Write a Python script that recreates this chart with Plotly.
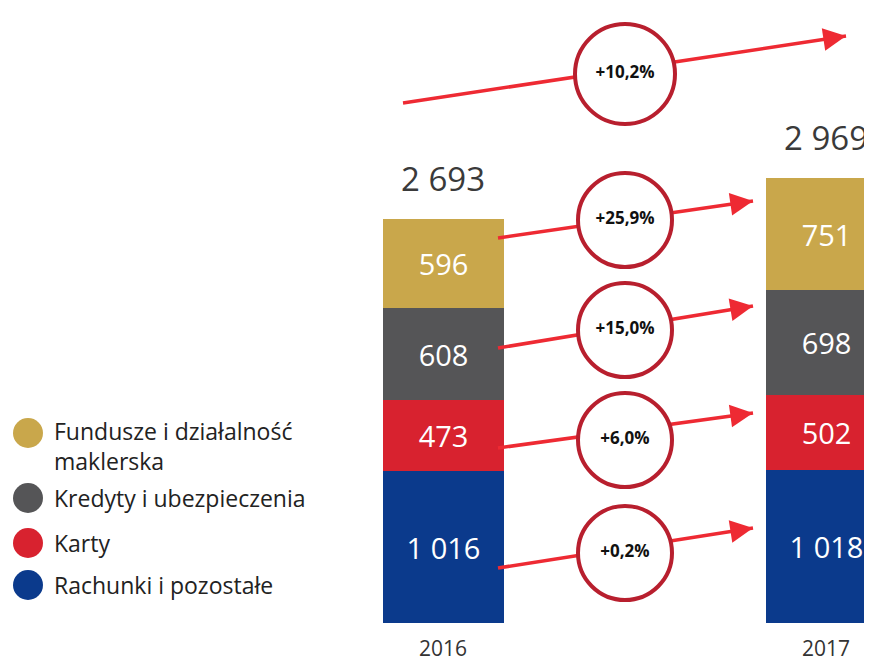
import plotly.graph_objects as go

years = ["2016", "2017"]
segments = ["Rachunki i pozostałe", "Karty", "Kredyty i ubezpieczenia", "Fundusze i działalność maklerska"]
values = {
    "Rachunki i pozostałe": [1016, 1018],
    "Karty": [473, 502],
    "Kredyty i ubezpieczenia": [608, 698],
    "Fundusze i działalność maklerska": [596, 751],
}
labels = {
    "Rachunki i pozostałe": ["1 016", "1 018"],
    "Karty": ["473", "502"],
    "Kredyty i ubezpieczenia": ["608", "698"],
    "Fundusze i działalność maklerska": ["596", "751"],
}
totals = [2693, 2969]
total_labels = ["2 693", "2 969"]
changes = ["+0,2%", "+6,0%", "+15,0%", "+25,9%"]
total_change = "+10,2%"

colors = ["#0b3a8c", "#d8222f", "#555557", "#c9a74b"]
FONT = "Open Sans"

# pixel -> data helpers (bar centres at 427px and 810px, base at 608px); page offset ~8px
OX, OY = 8, 7
PXU = 383.0
PYU = 0.15
def dx(px):
    return (px - OX - 427) / PXU
def dy(py):
    return (608 - py + OY) / PYU

fig = go.Figure()
xs = [0, 1]
for seg, c in zip(segments, colors):
    fig.add_trace(go.Bar(x=xs, y=values[seg], marker=dict(color=c, line=dict(width=0)),
                         width=121 / PXU, text=labels[seg], textposition="inside",
                         insidetextanchor="middle",
                         textfont=dict(color="white", size=29, family=FONT),
                         showlegend=False, hoverinfo="skip"))

for i in range(2):
    fig.add_annotation(x=xs[i], y=totals[i], text=total_labels[i], showarrow=False,
                       yanchor="bottom", yshift=16, font=dict(size=33, color="#3a3a3a", family=FONT))
    fig.add_annotation(x=xs[i], y=dy(640), text=years[i], showarrow=False,
                       font=dict(size=21, color="#333", family=FONT))

# arrows: start px, end px, circle centre
arrows = [((490, 560), (745, 520), (617, 545)),
          ((490, 440), (745, 405), (617, 432)),
          ((490, 340), (745, 298), (617, 322)),
          ((490, 230), (745, 193), (617, 212)),
          ((395, 95), (838, 28), (617, 66))]
texts = changes + [total_change]
red = "#ee2a33"
for (s, e, cc), t in zip(arrows, texts):
    fig.add_trace(go.Scatter(x=[dx(s[0]), dx(e[0])], y=[dy(s[1]), dy(e[1])], mode="lines",
                             line=dict(color=red, width=3.5), showlegend=False, hoverinfo="skip"))
    fig.add_annotation(x=dx(e[0]), y=dy(e[1]), ax=dx(e[0] - 12), ay=dy(e[1] - (e[1] - s[1]) * 12 / (e[0] - s[0])),
                       axref="x", ayref="y", xref="x", yref="y", text="", showarrow=True,
                       arrowhead=2, arrowsize=1.3, arrowwidth=3.5, arrowcolor=red)
for (s, e, cc), t in zip(arrows, texts):
    size = 100 if t == total_change else 94
    fig.add_trace(go.Scatter(x=[dx(cc[0])], y=[dy(cc[1])], mode="markers+text", text=["<b>" + t + "</b>"],
                             textposition="middle center",
                             textfont=dict(size=17, color="#111", family=FONT),
                             marker=dict(size=size, color="white", line=dict(color="#b81f2e", width=4)),
                             showlegend=False, hoverinfo="skip"))

# legend
leg = [("Fundusze i działalność<br>maklerska", colors[3], 425, 438),
       ("Kredyty i ubezpieczenia", colors[2], 490, 490),
       ("Karty", colors[1], 535, 535),
       ("Rachunki i pozostałe", colors[0], 577, 577)]
for t, c, my, ty in leg:
    fig.add_trace(go.Scatter(x=[dx(20)], y=[dy(my)], mode="markers",
                             marker=dict(size=30, color=c), showlegend=False, hoverinfo="skip"))
    fig.add_annotation(x=dx(44), y=dy(ty), text=t, showarrow=False, xanchor="left", align="left",
                       font=dict(size=23, color="#222", family=FONT))

fig.update_layout(barmode="stack", width=872, height=661, margin=dict(l=0, r=0, t=0, b=0),
                  plot_bgcolor="white", paper_bgcolor="white", bargap=0,
                  xaxis=dict(range=[dx(0), dx(872)], visible=False, fixedrange=True),
                  yaxis=dict(range=[dy(661), dy(0)], visible=False, fixedrange=True))
fig.write_html("out.html")
